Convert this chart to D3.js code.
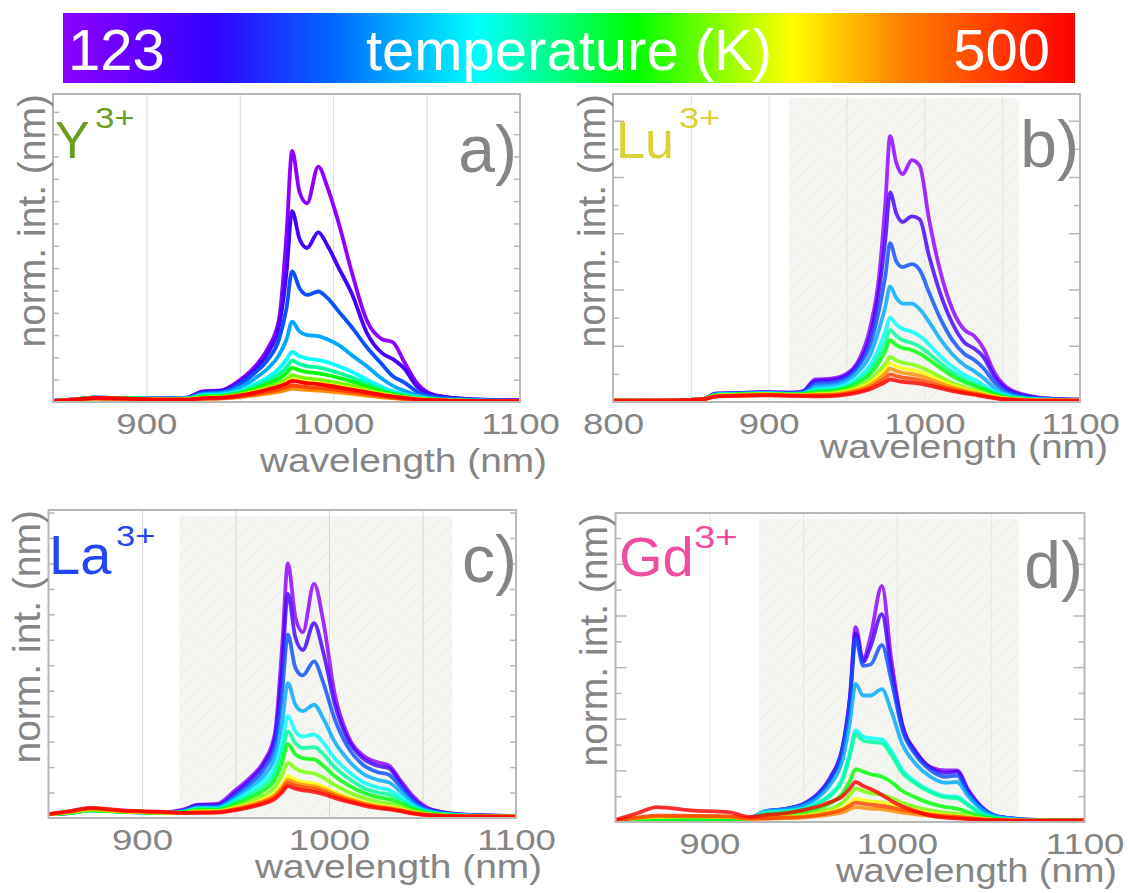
<!DOCTYPE html>
<html>
<head>
<meta charset="utf-8">
<script src="https://cdn.jsdelivr.net/npm/d3@7"></script>
<style>
  body { margin: 0; background: #fff; }
  svg { display: block; }
</style>
</head>
<body>
<svg id="fig" width="1131" height="893"></svg>
<script>
// ── DATA ──────────────────────────────────────────────
// temperatures of the 12 spectra (K), coldest first
const temps = [123, 168, 213, 247, 278, 300, 334, 364, 394, 432, 466, 500];

// wavelength grids (nm)
const wlGrid  = [850, 862, 872, 890, 910, 922, 930, 940, 950, 958, 965, 971, 975, 978, 982, 986, 992, 997, 1003, 1010, 1018, 1026, 1032, 1038, 1045, 1055, 1075, 1100];
const wlGridB = [800, 840, 858, 866, 880, 900, 915, 922, 930, 940, 950, 958, 965, 971, 975, 978, 982, 986, 992, 997, 1003, 1010, 1018, 1026, 1032, 1038, 1045, 1055, 1075, 1100];

// a) Y3+
const specY = [
  [0.05,0.12,0.2,0.18,0.16,0.2,0.48,0.52,0.98,1.58,2.4,3.7,7.5,11.25,9.4,8.9,10.55,9.6,8.0,5.8,3.65,2.82,2.67,1.8,0.83,0.3,0.12,0.07],
  [0.05,0.12,0.2,0.18,0.16,0.2,0.45,0.5,0.9,1.45,2.2,3.4,5.8,8.55,7.3,6.9,7.6,7.0,6.0,4.85,3.1,2.2,1.92,1.5,0.68,0.28,0.12,0.07],
  [0.05,0.12,0.2,0.18,0.15,0.18,0.4,0.45,0.8,1.3,1.9,2.8,4.2,5.85,5.1,4.8,4.95,4.65,4.05,3.35,2.45,1.7,1.15,0.88,0.45,0.22,0.1,0.06],
  [0.05,0.12,0.2,0.18,0.15,0.17,0.35,0.4,0.65,1.05,1.5,2.1,2.8,3.6,3.15,3.0,2.95,2.8,2.55,2.1,1.6,1.05,0.72,0.5,0.3,0.16,0.08,0.05],
  [0.04,0.12,0.19,0.17,0.14,0.16,0.3,0.33,0.5,0.8,1.1,1.5,1.9,2.25,2.05,1.95,1.88,1.78,1.6,1.35,1.0,0.68,0.48,0.35,0.22,0.12,0.06,0.04],
  [0.04,0.12,0.19,0.17,0.14,0.15,0.27,0.3,0.45,0.7,0.95,1.25,1.55,1.85,1.7,1.6,1.55,1.45,1.3,1.1,0.82,0.56,0.4,0.3,0.2,0.11,0.06,0.04],
  [0.04,0.11,0.18,0.16,0.13,0.14,0.24,0.27,0.4,0.6,0.82,1.05,1.3,1.53,1.42,1.35,1.28,1.2,1.08,0.92,0.7,0.48,0.35,0.26,0.17,0.1,0.05,0.04],
  [0.04,0.11,0.17,0.15,0.12,0.13,0.2,0.23,0.34,0.5,0.68,0.85,1.03,1.2,1.12,1.06,1.0,0.94,0.85,0.73,0.56,0.4,0.3,0.22,0.15,0.09,0.05,0.04],
  [0.04,0.1,0.16,0.14,0.11,0.12,0.18,0.2,0.3,0.43,0.58,0.72,0.87,1.0,0.93,0.88,0.83,0.78,0.7,0.6,0.47,0.34,0.26,0.19,0.13,0.08,0.05,0.04],
  [0.04,0.1,0.15,0.13,0.1,0.1,0.14,0.15,0.22,0.3,0.38,0.46,0.54,0.6,0.57,0.54,0.51,0.48,0.43,0.37,0.29,0.21,0.17,0.13,0.09,0.06,0.04,0.03],
  [0.04,0.1,0.16,0.14,0.1,0.1,0.15,0.17,0.25,0.35,0.46,0.57,0.67,0.75,0.71,0.67,0.63,0.59,0.53,0.45,0.36,0.26,0.2,0.15,0.1,0.07,0.04,0.03],
  [0.04,0.12,0.18,0.15,0.1,0.1,0.17,0.2,0.3,0.42,0.56,0.7,0.83,0.95,0.9,0.85,0.8,0.74,0.66,0.56,0.44,0.32,0.25,0.18,0.12,0.08,0.05,0.04]
];

// b) Lu3+
const specLu = [
  [0.05,0.06,0.1,0.3,0.32,0.35,0.33,0.38,0.8,0.83,1.0,1.5,2.6,4.5,7.1,9.45,8.5,8.1,8.6,8.4,6.5,4.7,3.3,2.55,2.35,1.9,1.05,0.45,0.15,0.08],
  [0.05,0.06,0.1,0.3,0.32,0.35,0.33,0.37,0.75,0.78,0.95,1.4,2.3,4.0,5.8,7.45,6.7,6.4,6.6,6.5,5.2,3.9,2.8,2.1,1.9,1.6,0.9,0.4,0.14,0.08],
  [0.05,0.06,0.1,0.28,0.3,0.33,0.31,0.34,0.65,0.68,0.85,1.3,2.0,3.3,4.5,5.65,5.0,4.8,4.9,4.7,3.9,3.0,2.2,1.7,1.5,1.2,0.7,0.33,0.12,0.07],
  [0.05,0.06,0.1,0.27,0.3,0.32,0.3,0.32,0.55,0.58,0.75,1.1,1.65,2.6,3.4,4.1,3.7,3.5,3.5,3.3,2.85,2.25,1.7,1.3,1.1,0.85,0.5,0.25,0.1,0.06],
  [0.05,0.06,0.1,0.26,0.29,0.31,0.29,0.3,0.45,0.48,0.62,0.9,1.3,1.95,2.5,3.0,2.75,2.6,2.5,2.35,2.05,1.65,1.25,0.95,0.8,0.6,0.38,0.2,0.09,0.06],
  [0.05,0.06,0.1,0.25,0.28,0.3,0.28,0.29,0.4,0.43,0.55,0.8,1.12,1.65,2.12,2.55,2.35,2.2,2.1,1.97,1.72,1.4,1.06,0.8,0.66,0.5,0.32,0.17,0.08,0.05],
  [0.05,0.06,0.1,0.24,0.27,0.29,0.27,0.28,0.36,0.39,0.5,0.7,0.98,1.42,1.82,2.2,2.02,1.92,1.85,1.72,1.5,1.22,0.92,0.7,0.58,0.44,0.28,0.15,0.07,0.05],
  [0.05,0.06,0.1,0.23,0.26,0.28,0.26,0.26,0.3,0.32,0.42,0.57,0.78,1.1,1.36,1.6,1.48,1.4,1.34,1.25,1.1,0.9,0.68,0.52,0.43,0.33,0.22,0.12,0.06,0.05],
  [0.05,0.06,0.1,0.22,0.25,0.27,0.25,0.25,0.27,0.29,0.37,0.5,0.68,0.95,1.17,1.37,1.27,1.2,1.14,1.07,0.94,0.77,0.59,0.45,0.37,0.29,0.19,0.11,0.06,0.05],
  [0.05,0.06,0.1,0.21,0.24,0.26,0.24,0.24,0.25,0.26,0.33,0.44,0.6,0.83,1.02,1.19,1.1,1.04,0.99,0.93,0.82,0.67,0.52,0.4,0.33,0.26,0.17,0.1,0.06,0.05],
  [0.05,0.06,0.1,0.2,0.23,0.25,0.23,0.23,0.23,0.24,0.3,0.39,0.52,0.7,0.85,0.98,0.92,0.87,0.83,0.78,0.69,0.57,0.45,0.35,0.29,0.23,0.15,0.09,0.05,0.05],
  [0.05,0.06,0.1,0.19,0.22,0.24,0.22,0.21,0.2,0.21,0.26,0.34,0.45,0.6,0.71,0.8,0.76,0.72,0.69,0.65,0.58,0.49,0.39,0.31,0.26,0.2,0.14,0.08,0.05,0.05]
];

// c) La3+
const specLa = [
  [0.15,0.2,0.33,0.25,0.22,0.33,0.52,0.55,1.1,1.6,2.2,3.3,6.8,10.0,7.9,7.3,9.2,7.7,4.9,3.25,2.47,2.19,2.07,1.5,0.85,0.33,0.12,0.08],
  [0.15,0.2,0.32,0.25,0.2,0.3,0.5,0.5,1.0,1.5,2.1,3.1,6.0,8.8,7.1,6.6,7.65,6.5,4.5,3.1,2.35,2.05,1.95,1.4,0.75,0.3,0.12,0.08],
  [0.15,0.2,0.3,0.24,0.2,0.28,0.45,0.45,0.9,1.35,1.9,2.8,5.0,7.2,5.9,5.6,6.15,5.3,3.9,2.8,2.1,1.8,1.7,1.25,0.68,0.28,0.11,0.07],
  [0.15,0.2,0.3,0.24,0.2,0.26,0.42,0.42,0.8,1.2,1.65,2.4,3.8,5.3,4.45,4.2,4.45,3.9,3.0,2.3,1.75,1.5,1.4,1.05,0.58,0.25,0.1,0.07],
  [0.15,0.2,0.3,0.24,0.2,0.25,0.38,0.38,0.7,1.05,1.45,2.0,3.0,4.0,3.4,3.2,3.28,2.95,2.35,1.85,1.42,1.2,1.1,0.85,0.48,0.22,0.09,0.06],
  [0.15,0.2,0.3,0.24,0.2,0.24,0.35,0.35,0.62,0.92,1.25,1.75,2.6,3.4,2.95,2.75,2.78,2.5,2.0,1.58,1.2,1.0,0.92,0.72,0.42,0.2,0.09,0.06],
  [0.15,0.2,0.3,0.24,0.2,0.22,0.32,0.32,0.55,0.8,1.08,1.5,2.2,2.9,2.5,2.35,2.3,2.05,1.65,1.3,1.0,0.82,0.74,0.58,0.35,0.17,0.08,0.06],
  [0.15,0.22,0.32,0.25,0.2,0.2,0.28,0.28,0.46,0.66,0.88,1.2,1.7,2.17,1.95,1.82,1.75,1.58,1.3,1.03,0.8,0.64,0.57,0.45,0.28,0.14,0.07,0.05],
  [0.15,0.24,0.35,0.26,0.22,0.2,0.24,0.25,0.4,0.55,0.73,0.98,1.32,1.64,1.5,1.42,1.35,1.23,1.02,0.82,0.64,0.5,0.44,0.35,0.22,0.12,0.06,0.05],
  [0.15,0.25,0.36,0.27,0.22,0.2,0.23,0.24,0.37,0.51,0.67,0.9,1.21,1.5,1.38,1.3,1.24,1.13,0.94,0.76,0.59,0.46,0.4,0.32,0.2,0.11,0.06,0.05],
  [0.15,0.26,0.38,0.28,0.23,0.2,0.22,0.23,0.34,0.47,0.62,0.83,1.12,1.38,1.27,1.2,1.14,1.04,0.87,0.7,0.55,0.43,0.37,0.3,0.19,0.1,0.06,0.05],
  [0.15,0.28,0.4,0.3,0.25,0.2,0.2,0.21,0.31,0.43,0.56,0.75,1.02,1.25,1.15,1.09,1.03,0.94,0.79,0.64,0.5,0.39,0.34,0.27,0.17,0.1,0.06,0.05]
];

// d) Gd3+
const specGd = [
  [0.05,0.05,0.06,0.06,0.06,0.15,0.4,0.5,0.7,1.1,1.8,2.9,4.9,7.55,6.3,7.2,9.15,6.3,3.75,2.75,2.12,2.0,2.0,1.25,0.6,0.2,0.08,0.06],
  [0.05,0.05,0.06,0.06,0.06,0.15,0.4,0.5,0.68,1.08,1.75,2.85,4.8,7.3,6.2,6.8,8.05,5.9,3.7,2.7,2.1,1.9,1.95,1.2,0.58,0.2,0.08,0.06],
  [0.05,0.05,0.06,0.06,0.06,0.15,0.42,0.5,0.68,1.05,1.7,2.8,4.7,7.1,6.05,6.1,6.85,5.5,3.55,2.6,2.0,1.75,1.8,1.12,0.55,0.19,0.08,0.06],
  [0.05,0.05,0.06,0.06,0.06,0.15,0.42,0.48,0.63,0.95,1.5,2.4,3.9,5.35,4.9,4.9,5.15,4.3,3.0,2.25,1.75,1.52,1.55,1.0,0.5,0.18,0.07,0.05],
  [0.05,0.05,0.06,0.06,0.06,0.14,0.38,0.42,0.52,0.75,1.1,1.7,2.7,3.55,3.3,3.25,3.2,2.75,2.0,1.55,1.2,1.0,0.98,0.68,0.35,0.14,0.06,0.05],
  [0.05,0.05,0.06,0.06,0.06,0.14,0.36,0.4,0.5,0.72,1.05,1.62,2.6,3.4,3.15,3.1,3.05,2.6,1.9,1.48,1.15,0.95,0.92,0.64,0.33,0.13,0.06,0.05],
  [0.05,0.08,0.1,0.1,0.1,0.12,0.25,0.3,0.38,0.52,0.75,1.1,1.6,2.05,1.95,1.85,1.75,1.55,1.2,0.95,0.72,0.58,0.52,0.38,0.22,0.1,0.05,0.05],
  [0.05,0.15,0.2,0.22,0.2,0.12,0.18,0.22,0.28,0.38,0.52,0.75,1.05,1.29,1.2,1.12,1.05,0.93,0.74,0.58,0.45,0.36,0.32,0.24,0.15,0.08,0.05,0.05],
  [0.05,0.15,0.2,0.22,0.2,0.12,0.15,0.18,0.22,0.3,0.4,0.55,0.75,0.9,0.85,0.8,0.75,0.67,0.54,0.43,0.34,0.27,0.24,0.18,0.12,0.07,0.05,0.05],
  [0.05,0.15,0.22,0.22,0.2,0.12,0.13,0.15,0.18,0.23,0.3,0.38,0.5,0.58,0.55,0.52,0.49,0.44,0.36,0.3,0.24,0.19,0.17,0.13,0.09,0.06,0.05,0.05],
  [0.05,0.18,0.25,0.24,0.22,0.13,0.14,0.17,0.2,0.27,0.36,0.48,0.64,0.75,0.71,0.67,0.62,0.56,0.46,0.37,0.29,0.23,0.2,0.16,0.11,0.07,0.05,0.05],
  [0.08,0.35,0.58,0.45,0.38,0.2,0.27,0.33,0.46,0.6,0.78,1.0,1.3,1.55,1.4,1.28,1.05,0.82,0.6,0.42,0.25,0.17,0.14,0.11,0.08,0.06,0.05,0.06]
];

// axes
const xTicksY  = [900, 1000, 1100];
const xTicksLu = [800, 900, 1000, 1100];
const xTicksLa = [900, 1000, 1100];
const xTicksGd = [900, 1000, 1100];
const gridY  = [900, 950, 1000, 1050];
const gridLu = [850, 900, 950, 1000, 1050];
const gridLa = [900, 950, 1000, 1050];
const gridGd = [900, 950, 1000, 1050];
const shadeLu = [913, 1061];
const shadeLa = [920, 1066];
const shadeGd = [926.5, 1065];

// colour bar (position along bar, colour)
const cbPos    = [0, 0.148, 0.267, 0.41, 0.565, 0.72, 0.83, 1];
const cbColors = ["#8e00ff", "#3300ff", "#0068ff", "#00ffff", "#00ff00", "#ffff00", "#ff8000", "#ff0000"];

// ── SETUP ─────────────────────────────────────────────
const FONT = "'Liberation Sans', Arial, Helvetica, sans-serif";
const GREY = "#858585";
const svg = d3.select("#fig").attr("font-family", FONT);
const defs = svg.append("defs");

const posToColor = d3.scaleLinear().domain(cbPos).range(cbColors).interpolate(d3.interpolateRgb);
const tempToPos  = d3.scaleLinear().domain([123, 500]).range([0, 1]);
const tempColor  = t => posToColor(tempToPos(t));

// stretch text horizontally by k, keeping its anchor
function stretch(sel, k) {
  sel.each(function() {
    const el = d3.select(this);
    const w = this.getComputedTextLength();
    const a = el.attr("text-anchor") || getComputedStyle(this).textAnchor || "start";
    const x0 = +el.attr("x") || 0;
    const nw = w * k;
    let nx = x0;
    if (a === "middle") nx = x0 - nw / 2;
    else if (a === "end") nx = x0 - nw;
    el.attr("x", nx).attr("text-anchor", "start")
      .attr("textLength", nw).attr("lengthAdjust", "spacingAndGlyphs");
  });
}

// ── Colour bar ────────────────────────────────────────
const grad = defs.append("linearGradient").attr("id", "cb");
cbPos.forEach((p, i) => grad.append("stop").attr("offset", p).attr("stop-color", cbColors[i]));
svg.append("rect").attr("x", 63).attr("y", 13).attr("width", 1012).attr("height", 70).attr("fill", "url(#cb)");
svg.append("text").attr("x", 68).attr("y", 70).attr("font-size", 58).attr("fill", "#fff").text("123");
svg.append("text").attr("x", 569).attr("y", 70).attr("font-size", 58).attr("fill", "#fff")
  .attr("text-anchor", "middle").text("temperature (K)");
svg.append("text").attr("x", 1050).attr("y", 70).attr("font-size", 58).attr("fill", "#fff")
  .attr("text-anchor", "end").text("500");

// hatch for shaded windows
const hatch = defs.append("pattern").attr("id", "hatch").attr("patternUnits", "userSpaceOnUse")
  .attr("width", 11).attr("height", 11).attr("patternTransform", "rotate(40)");
hatch.append("rect").attr("width", 11).attr("height", 11).attr("fill", "#f5f5f1");
hatch.append("line").attr("x1", 0).attr("y1", 0).attr("x2", 0).attr("y2", 11)
  .attr("stroke", "#ebebe5").attr("stroke-width", 1.6);

// ── Panels ────────────────────────────────────────────
const panels = [
  { key: "a", ion: "Y", ionColor: "#6b9e1f", letter: "a)", wl: wlGrid, spec: specY,
    xDomain: [850, 1100], xTicks: xTicksY, grid: gridY, gridColor: "#cddbea", shade: null,
    yMax: 13.8, major: false, box: { l: 53, r: 520, t: 94, b: 402 }, opacity: 1,
    ionSize: 52, ionPos: [55, 158], supSize: 29, supK: 1.2, supPos: [95, 128],
    letterPos: [517, 172], wlRight: 547, wlBase: 472, wlWidth: 287 },
  { key: "b", ion: "Lu", ionColor: "#dbd23a", letter: "b)", wl: wlGridB, spec: specLu,
    xDomain: [800, 1100], xTicks: xTicksLu, grid: gridLu, gridColor: "#e2e2e2", shade: shadeLu, shadeTop: 98,
    yMax: 10.95, major: true, box: { l: 613, r: 1080, t: 94, b: 402 }, opacity: 0.82,
    ionSize: 52, ionPos: [616, 158], supSize: 29, supK: 1.25, supPos: [679, 128],
    letterPos: [1079, 167], wlRight: 1108, wlBase: 458, wlWidth: 288 },
  { key: "c", ion: "La", ionColor: "#2346f2", letter: "c)", wl: wlGrid, spec: specLa,
    xDomain: [850, 1100], xTicks: xTicksLa, grid: gridLa, gridColor: "#d4d4d4", shade: shadeLa, shadeTop: 516,
    yMax: 12.1, major: false, box: { l: 48.5, r: 516, t: 510, b: 818 }, opacity: 0.82,
    ionSize: 56, ionPos: [49, 574], supSize: 30, supK: 1.15, supPos: [116, 546],
    letterPos: [517, 582], wlRight: 542, wlBase: 878, wlWidth: 287 },
  { key: "d", ion: "Gd", ionColor: "#f04ca0", letter: "d)", wl: wlGrid, spec: specGd,
    xDomain: [850, 1100], xTicks: xTicksGd, grid: gridGd, gridColor: "#ebe5d5", shade: shadeGd, shadeTop: 519,
    yMax: 11.97, major: true, box: { l: 615.5, r: 1084.5, t: 513, b: 822 }, opacity: 0.82,
    ionSize: 56, ionPos: [619, 576], supSize: 32, supK: 1.2, supPos: [694, 548],
    letterPos: [1083, 588], wlRight: 1117, wlBase: 882, wlWidth: 281 }
];

function drawPanel(p) {
  const { l, r, t, b } = p.box;
  const x = d3.scaleLinear().domain(p.xDomain).range([l, r]);
  const y = d3.scaleLinear().domain([0, p.yMax]).range([b, t]);
  const g = svg.append("g").attr("class", "panel-" + p.key);

  defs.append("clipPath").attr("id", "clip-" + p.key)
    .append("rect").attr("x", l).attr("y", t).attr("width", r - l).attr("height", b - t);

  // shaded window
  if (p.shade) {
    g.append("rect")
      .attr("x", x(p.shade[0])).attr("y", p.shadeTop)
      .attr("width", x(p.shade[1]) - x(p.shade[0])).attr("height", b - p.shadeTop)
      .attr("fill", "url(#hatch)");
  }

  // vertical grid
  g.append("g")
    .attr("transform", `translate(0,${b})`)
    .call(d3.axisBottom(x).tickValues(p.grid).tickSize(-(b - t)).tickFormat(""))
    .call(s => s.select(".domain").remove())
    .selectAll("line").attr("stroke", p.gridColor).attr("stroke-width", 1);

  // spectra
  const line = d3.line()
    .x((d, i) => x(p.wl[i]))
    .y(d => y(d))
    .curve(d3.curveMonotoneX);

  g.append("g").attr("clip-path", `url(#clip-${p.key})`)
    .selectAll("path")
    .data(p.spec)
    .join("path")
      .attr("d", line)
      .attr("fill", "none")
      .attr("stroke", (d, i) => tempColor(temps[i]))
      .attr("stroke-width", 3.8)
      .attr("stroke-opacity", p.opacity)
      .attr("stroke-linejoin", "round");

  // frame
  g.append("rect")
    .attr("x", l).attr("y", t).attr("width", r - l).attr("height", b - t)
    .attr("fill", "none").attr("stroke", "#b8b8b8").attr("stroke-width", 2);

  // y ticks (no labels), both sides, pointing inwards
  const all = d3.range(1, Math.floor(p.yMax) + 1);
  const minor = p.major ? all.filter(v => v % 2) : all;
  const major = p.major ? all.filter(v => v % 2 === 0) : [];
  [[minor, 6], [major, 11]].forEach(([vals, len]) => {
    if (!vals.length) return;
    g.append("g").attr("transform", `translate(${l},0)`)
      .call(d3.axisLeft(y).tickValues(vals).tickSize(-len).tickFormat(""))
      .call(s => s.select(".domain").remove())
      .selectAll("line").attr("stroke", "#b8b8b8").attr("stroke-width", 1.5);
    g.append("g").attr("transform", `translate(${r},0)`)
      .call(d3.axisRight(y).tickValues(vals).tickSize(-len).tickFormat(""))
      .call(s => s.select(".domain").remove())
      .selectAll("line").attr("stroke", "#b8b8b8").attr("stroke-width", 1.5);
  });

  // x tick labels
  const xa = g.append("g")
    .attr("transform", `translate(0,${b})`)
    .call(d3.axisBottom(x).tickValues(p.xTicks).tickSize(0).tickFormat(d3.format("d")))
    .attr("font-family", FONT).attr("font-size", 30)
    .call(s => s.select(".domain").remove());
  xa.selectAll("text").attr("y", 32).attr("dy", 0).attr("fill", GREY).attr("text-anchor", "middle")
    .call(s => stretch(s, 1.22));

  // axis titles
  g.append("text")
    .attr("x", p.wlRight - p.wlWidth).attr("y", p.wlBase)
    .attr("font-size", 34).attr("fill", GREY)
    .attr("textLength", p.wlWidth).attr("lengthAdjust", "spacingAndGlyphs")
    .text("wavelength (nm)");

  g.append("text")
    .attr("transform", `translate(${l - 8.5},${t}) rotate(-90)`)
    .attr("text-anchor", "end")
    .attr("font-size", 39).attr("fill", GREY)
    .text("norm. int. (nm)");

  // ion label
  g.append("text").attr("x", p.ionPos[0]).attr("y", p.ionPos[1])
    .attr("font-size", p.ionSize).attr("fill", p.ionColor).text(p.ion);
  g.append("text").attr("x", p.supPos[0]).attr("y", p.supPos[1])
    .attr("font-size", p.supSize).attr("fill", p.ionColor).text("3+")
    .call(s => stretch(s, p.supK));

  // panel letter
  g.append("text").attr("x", p.letterPos[0]).attr("y", p.letterPos[1])
    .attr("text-anchor", "end").attr("font-size", 66).attr("fill", GREY)
    .text(p.letter);
}

panels.forEach(drawPanel);
</script>
</body>
</html>
